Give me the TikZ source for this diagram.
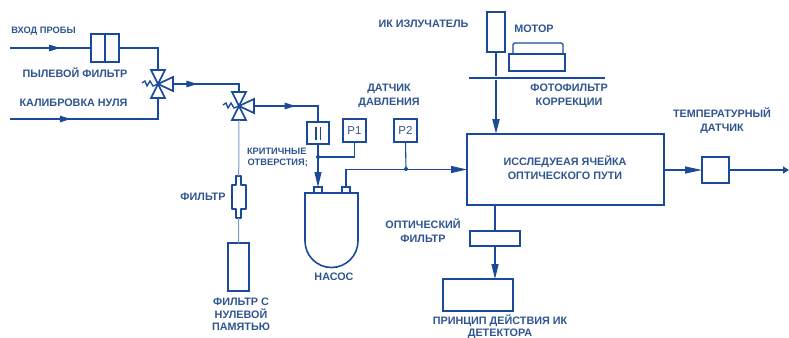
\documentclass[tikz,border=0pt]{standalone}
\usepackage{fontspec}
\setmainfont{Liberation Sans}
\usetikzlibrary{arrows.meta,decorations.markings,calc}
\definecolor{ln}{HTML}{1B4A9A}
\definecolor{txt}{HTML}{2F5590}
\definecolor{thinln}{HTML}{7F9BC8}
\tikzset{
  x=1pt,y=-1pt,
  every node/.style={inner sep=0pt,outer sep=0pt},
  lbl/.style={text=txt,font=\bfseries\fontsize{10.8}{14}\selectfont,align=center},
  tight/.style={text=txt,font=\bfseries\fontsize{10.8}{12.5}\selectfont,align=center},
  small/.style={text=txt,font=\bfseries\fontsize{9.3}{12}\selectfont,align=center},
  plabel/.style={text=txt,font=\fontsize{11.5}{12}\selectfont},
  box/.style={draw=ln,line width=1.7pt,minimum width=#1},
  pipe/.style={draw=ln,line width=1.1pt},
  thick pipe/.style={draw=ln,line width=2pt},
  midarrow/.style={postaction={decorate},decoration={markings,mark=at position #1 with {\arrow[ln]{Triangle[length=11pt,width=6.5pt]}}}},
  valve/.style={minimum width=30pt,minimum height=28pt}
}
\newcommand{\valveshape}[1]{%
  \begin{scope}[shift={(#1.center)},draw=ln,line width=1.7pt,line join=miter]
    \draw (0,0) -- (-7,-14) -- (7,-14) -- cycle;
    \draw (0,0) -- (-7,14) -- (7,14) -- cycle;
    \draw (0,0) -- (15,-7) -- (15,7) -- cycle;
    \draw[line width=1.3pt] (0,0) -- (-5,2) -- (-8,-3) -- (-11,2) -- (-13,-3) -- (-16,-1);
  \end{scope}}
\begin{document}
\begin{tikzpicture}
\useasboundingbox (0,0) rectangle (789,337);
% coordinates of free ends
\coordinate (in1) at (10,48);
\coordinate (in2) at (10,119);
\coordinate (out) at (789,170);
% boxes
\node[box=28pt,minimum height=28pt] (dust) at (105,48) {};
\node[valve] (v1) at (158,84) {};
\node[valve] (v2) at (239,106) {};
\node[box=22pt,minimum height=22pt] (crit) at (318,133) {};
\node[box=23pt,minimum height=23pt,plabel] (p1) at (354.5,130.5) {P1};
\node[box=23pt,minimum height=23pt,plabel] (p2) at (405.5,130.5) {P2};
\node[box=197pt,minimum height=71pt] (cell) at (565.5,169.5) {};
\node[box=27pt,minimum height=26pt] (temp) at (715.5,170) {};
\node[box=50pt,minimum height=15pt] (ofilt) at (495,238.5) {};
\node[box=70pt,minimum height=32pt] (det) at (478,295) {};
\node[box=18pt,minimum height=40pt] (ir) at (496,32) {};
\node[minimum width=136pt,minimum height=4pt] (plate) at (537,78) {};
\node[box=21pt,minimum height=48pt,line width=1.4pt] (zero) at (238.5,267) {};
\node[minimum width=14pt,minimum height=42pt] (sf) at (238.7,197) {};
\node[draw=ln,line width=1.4pt,minimum width=8pt,minimum height=6pt] (n1) at (318,190) {};
\node[draw=ln,line width=1.4pt,minimum width=8pt,minimum height=6pt] (n2) at (346,190) {};
\coordinate (dotA) at (318,157);
\coordinate (dotB) at (406,169);
% valves
\valveshape{v1}
\valveshape{v2}
% dividers
\draw[draw=ln,line width=1.2pt] (dust.north) -- (dust.south);
\draw[draw=ln,line width=1.1pt] (316,127) -- (316,140) (320.5,127) -- (320.5,140);
% small filter
\draw[draw=ln,line width=1.4pt,line join=round] (236,176) -- (241,176) -- (241,185) -- (246,185) -- (246,209) -- (241,209) -- (241,218) -- (236,218) -- (236,209) -- (232,209) -- (232,185) -- (236,185) -- cycle;
% pump body
\draw[draw=ln,line width=1.6pt] (305,193) -- (358,193) -- (358,241) arc[start angle=0,end angle=180,radius=26.5] -- cycle;
% motor
\draw[draw=ln,line width=1.1pt,rounded corners=1.5pt] (513,54) -- (513,43) -- (563,43) -- (563,54);
\draw[draw=ln,line width=1.1pt] (509,54) rectangle (565,71);
% plate
\draw[draw=ln,line width=1.5pt] (plate.west) -- (plate.east);
% connectors
\draw[pipe,midarrow=.62] (in1) -- (dust.west);
\draw[pipe] (dust.east) -| (v1.north);
\draw[pipe,midarrow=.36] (in2) -| (v1.south);
\draw[pipe,midarrow=.33] (v1.east) -| (v2.north);
\draw[pipe,midarrow=.52] (v2.east) -| (crit.north);
\draw[draw=thinln,line width=1pt] (v2.south) -- (sf.north);
\draw[draw=thinln,line width=1pt] (sf.south) -- (zero.north);
\draw[pipe,-{Triangle[length=15pt,width=7pt,fill=ln]}] (crit.south) -- (n1.north);
\draw[pipe] (dotA) -| (p1.south);
\draw[pipe,-{Triangle[length=16pt,width=7pt,fill=ln]}] (n2.north) |- (cell.west);
\draw[pipe] (p2.south) -- (dotB);
\fill[ln] (dotA) circle (2pt);
\fill[ln] (dotB) circle (2pt);
\draw[thick pipe] (ir.south) -- (plate.north -| ir.south);
\draw[thick pipe,-{Triangle[length=15pt,width=7pt,fill=ln]}] (plate.south -| ir.south) -- (cell.north -| ir.south);
\draw[thick pipe] (cell.south -| ofilt.north) -- (ofilt.north);
\draw[pipe,line width=1.5pt,-{Triangle[length=15pt,width=7pt,fill=ln]}] (ofilt.south) -- (det.north -| ofilt.south);
\draw[pipe,-{Triangle[length=17pt,width=7pt,fill=ln]}] (cell.east |- temp.west) -- (temp.west);
\draw[pipe,-{Triangle[length=6pt,width=7pt,fill=ln]}] (temp.east) -- (out);
% labels
\node[small] (l1) at (43.5,31) {ВХОД ПРОБЫ};
\node[lbl] (l2) at (75,73) {ПЫЛЕВОЙ ФИЛЬТР};
\node[lbl] (l3) at (73.5,103) {КАЛИБРОВКА НУЛЯ};
\node[small,anchor=west] (l4) at (247,151) {КРИТИЧНЫЕ};
\node[small,anchor=west] (l5) at (247.5,163) {ОТВЕРСТИЯ;};
\node[lbl] (l6) at (389,96) {ДАТЧИК\\ДАВЛЕНИЯ};
\node[lbl] (l7) at (423.5,24) {ИК ИЗЛУЧАТЕЛЬ};
\node[lbl] (l8) at (534,29) {МОТОР};
\node[lbl] (l9) at (569,95.5) {ФОТОФИЛЬТР\\КОРРЕКЦИИ};
\node[lbl] (l10) at (565,168) {ИССЛЕДУЕАЯ ЯЧЕЙКА\\ОПТИЧЕСКОГО ПУТИ};
\node[lbl] (l11) at (722,121) {ТЕМПЕРАТУРНЫЙ\\ДАТЧИК};
\node[lbl] (l12) at (423,231) {ОПТИЧЕСКИЙ\\ФИЛЬТР};
\node[lbl] (l13) at (334,277) {НАСОС};
\node[lbl] (l14) at (203,197) {ФИЛЬТР};
\node[tight] (l15) at (241,314.5) {ФИЛЬТР С\\НУЛЕВОЙ\\ПАМЯТЬЮ};
\node[tight,anchor=north] (l16) at (500,314.5) {ПРИНЦИП ДЕЙСТВИЯ ИК\\ДЕТЕКТОРА};
\end{tikzpicture}
\end{document}
